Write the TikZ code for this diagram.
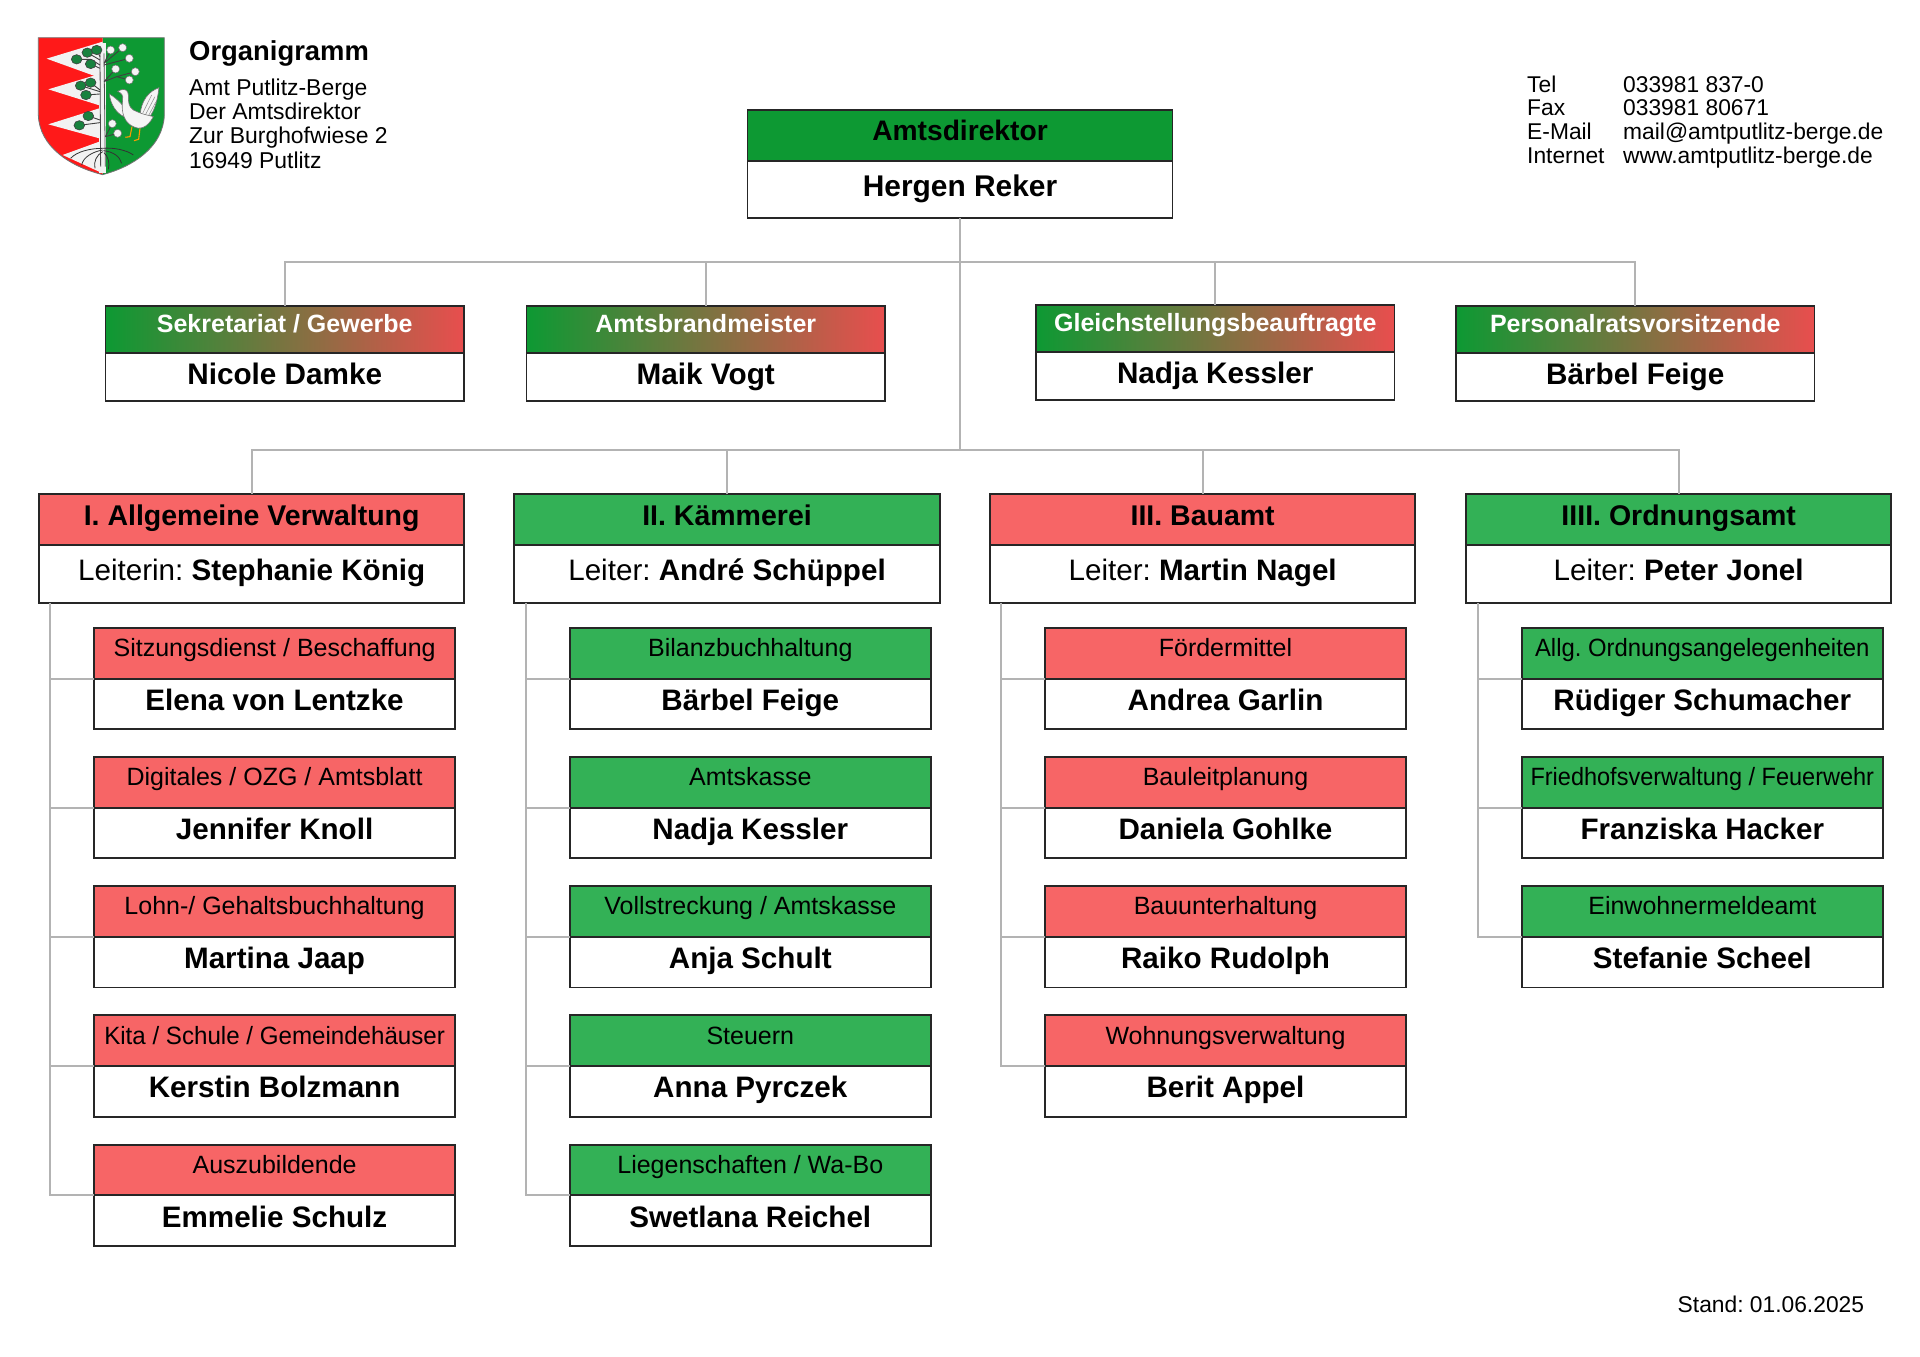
\documentclass[tikz,border=0pt]{standalone}
\usepackage{fontspec}
\setmainfont{Liberation Sans}
\usetikzlibrary{calc,positioning}
\definecolor{mygreen}{RGB}{13, 153, 51}
\definecolor{mygreen2}{RGB}{51, 177, 86}
\definecolor{myred}{RGB}{247, 101, 102}
\definecolor{myred2}{RGB}{232, 78, 78}
\definecolor{myline}{RGB}{179, 179, 179}
\definecolor{myleaf}{RGB}{24, 130, 62}
\newcommand{\squeeze}[2]{\scalebox{#1}[1]{#2}}
\tikzset{
  box/.style = {draw = black!85, line width = 1.9pt, inner sep = 0, outer sep = 0, align = center},
  link/.style = {draw = myline, line width = 2pt},
  topttl/.style = {box, fill = mygreen, minimum width = 425pt, text height = 30pt, text depth = 21pt, font = \fontsize{28.2}{30}\selectfont\bfseries},
  topname/.style = {box, minimum width = 425pt, text height = 35pt, text depth = 22.3pt, font = \fontsize{29.9}{30}\selectfont\bfseries},
  staffttl/.style = {box, left color = mygreen, right color = myred2, text = white, minimum width = 358.5pt, text height = 27pt, text depth = 20pt, font = \fontsize{25}{30}\selectfont\bfseries},
  staffname/.style = {box, minimum width = 358.5pt, text height = 31.6pt, text depth = 16.4pt, font = \fontsize{29.7}{30}\selectfont\bfseries},
  deptttl/.style = {box, minimum width = 425.3pt, text height = 31pt, text depth = 20pt, font = \fontsize{28.5}{30}\selectfont\bfseries},
  deptname/.style = {box, minimum width = 425.3pt, text height = 35pt, text depth = 22.7pt, font = \fontsize{29.6}{30}\selectfont},
  subttl/.style = {box, minimum width = 360.6pt, text height = 28.7pt, text depth = 22pt, font = \fontsize{25}{30}\selectfont},
  subname/.style = {box, minimum width = 360.6pt, text height = 31.6pt, text depth = 19pt, font = \fontsize{29.6}{30}\selectfont\bfseries},
  info/.style = {anchor = base west, inner sep = 0, font = \fontsize{22.8}{24}\selectfont},
  addr/.style = {info, font = \fontsize{22.9}{24}\selectfont},
  leaf/.style = {fill = myleaf, draw = black!75, line width = 0.6pt},
  silver/.style = {fill = black!4, draw = black!55, line width = 0.5pt}
}
% one box of a column: name, colour, x, top, title, person
\newcommand{\subbox}[6]{
  \node[subttl, fill = #2, anchor = north west] (#1t) at (#3, #4) {#5};
  \node[subname, anchor = north west] (#1n) at (#1t.south west) {#6};
}
\newcommand{\deptbox}[5]{
  \node[deptttl, fill = #2, anchor = north west] (#1t) at (#3, 494) {#4};
  \node[deptname, anchor = north west] (#1n) at (#1t.south west) {#5};
}
\newcommand{\staffbox}[5]{
  \node[staffttl, anchor = north west] (#1t) at (#2, #3) {#4};
  \node[staffname, anchor = north west] (#1n) at (#1t.south west) {#5};
}
\frenchspacing
\begin{document}
\begin{tikzpicture}[x = 1pt, y = -1pt]

\useasboundingbox (0, 0) rectangle (1920, 1357);

% crest, in units of a 3x crop
\begin{scope}[x = 0.3333pt, y = -0.3333pt]
\fill[mygreen] (308, 113) -- (493, 113) -- (493, 345) .. controls (490, 440) and (400, 500) .. (308, 524) -- cycle;
\fill[red!90!white] (308, 113) -- (115, 113) -- (115, 345) .. controls (118, 440) and (210, 500) .. (308, 524) -- cycle;
\draw[black!55, line width = 0.8pt] (115, 113) -- (493, 113) -- (493, 345) .. controls (490, 440) and (400, 500) .. (308, 524) .. controls (210, 500) and (118, 440) .. (115, 345) -- cycle;
\fill[black!5] (308, 125) -- (140, 176) -- (295, 232) -- cycle;
\fill[black!5] (298, 222) -- (145, 268) -- (298, 316) -- cycle;
\fill[black!5] (298, 325) -- (145, 373) -- (298, 415) -- cycle;
\fill[black!5] (298, 425) -- (188, 465) -- (308, 520) -- cycle;
\fill[black!5] (298, 130) rectangle (318, 520);
\draw[black!70, line width = 0.8pt] (302, 500) -- (300, 160) (316, 500) -- (312, 160);
% branches
\draw[black!75, line width = 0.9pt] (300, 195) -- (272, 178) -- (232, 178) (300, 180) -- (262, 158) (300, 170) -- (290, 150) (300, 205) -- (272, 192)
  (300, 282) -- (258, 285) (300, 270) -- (272, 248) (300, 275) -- (242, 257)
  (300, 368) -- (238, 376) (300, 360) -- (265, 348)
  (312, 190) -- (332, 150) (312, 190) -- (368, 143) (312, 195) -- (388, 175)
  (312, 245) -- (347, 207) (312, 245) -- (350, 230) -- (406, 215) (350, 230) -- (388, 240)
  (316, 410) -- (337, 371) (316, 410) -- (353, 400);
% leaves
\foreach \lx/\ly in {230/178, 262/158, 290/150, 272/192, 242/257, 272/248, 258/285, 265/348, 238/376}
  \draw[leaf] (\lx, \ly) ellipse (16 and 14);
\foreach \lx/\ly in {332/150, 368/143, 388/175, 347/207, 406/215, 388/240, 337/371, 353/400}
  \draw[silver] (\lx, \ly) circle (12);
% roots
\draw[black!80, line width = 0.8pt] (308, 445) .. controls (270, 445) and (230, 455) .. (212, 475)
  (308, 450) .. controls (280, 455) and (250, 470) .. (245, 495)
  (308, 455) .. controls (290, 465) and (280, 485) .. (285, 505)
  (308, 445) .. controls (340, 442) and (380, 450) .. (400, 465)
  (310, 452) .. controls (340, 455) and (360, 470) .. (365, 490)
  (312, 458) .. controls (325, 470) and (330, 490) .. (325, 508);
% goose
\draw[silver, line width = 0.6pt] (420, 345) .. controls (425, 300) and (445, 275) .. (477, 263) .. controls (470, 320) and (455, 355) .. (430, 365) -- cycle;
\draw[black!45, line width = 0.5pt] (428, 340) -- (455, 285) (436, 345) -- (465, 290) (444, 350) -- (468, 305);
\draw[silver, line width = 0.6pt] (372, 350) .. controls (350, 340) and (332, 315) .. (328, 282) .. controls (350, 295) and (365, 310) .. (378, 330) -- cycle;
\draw[orange!80!yellow, line width = 1.1pt] (396, 380) -- (390, 410) -- (376, 412) (420, 385) -- (416, 418) -- (402, 422);
\draw[silver, line width = 0.6pt] (353, 274) -- (362, 270) .. controls (375, 265) and (385, 272) .. (385, 285) .. controls (385, 305) and (385, 320) .. (400, 330) .. controls (430, 345) and (445, 345) .. (460, 350) .. controls (450, 370) and (430, 392) .. (405, 382) .. controls (375, 372) and (362, 340) .. (368, 300) .. controls (370, 285) and (365, 280) .. (353, 274) -- cycle;
\end{scope}

% header
\node[anchor = base west, inner sep = 0, font = \fontsize{27.4}{30}\selectfont\bfseries] (head) at (189, 60) {Organigramm};
\node[addr] (addr1) at (189, 95) {Amt Putlitz-Berge};
\node[addr] (addr2) at (189, 119.3) {Der Amtsdirektor};
\node[addr] (addr3) at (189, 143.8) {Zur Burghofwiese 2};
\node[addr] (addr4) at (189, 168) {16949 Putlitz};

\node[info] (tel1) at (1527, 92.5) {Tel};
\node[info] (tel2) at (1623, 92.5) {033981 837-0};
\node[info] (fax1) at (1527, 115.5) {Fax};
\node[info] (fax2) at (1623, 115.5) {033981 80671};
\node[info] (mail1) at (1527, 139.5) {E-Mail};
\node[info] (mail2) at (1623, 139.5) {mail@amtputlitz-berge.de};
\node[info] (web1) at (1527, 163.5) {Internet};
\node[info] (web2) at (1623, 163.5) {www.amtputlitz-berge.de};
\node[info] (stand) at (1677.5, 1312.5) {Stand: 01.06.2025};

% top
\node[topttl, anchor = north west] (dirt) at (747.5, 110) {Amtsdirektor};
\node[topname, anchor = north west] (dirn) at (dirt.south west) {Hergen Reker};

% staff
\staffbox{sek}{105.5}{305.7}{Sekretariat / Gewerbe}{Nicole Damke}
\staffbox{brand}{526.5}{305.7}{Amtsbrandmeister}{Maik Vogt}
\staffbox{gleich}{1036}{304.7}{Gleichstellungsbeauftragte}{Nadja Kessler}
\staffbox{pers}{1456}{305.7}{Personalratsvorsitzende}{Bärbel Feige}

% departments
\deptbox{depa}{myred}{39}{I. Allgemeine Verwaltung}{Leiterin: \textbf{Stephanie König}}
\deptbox{depb}{mygreen2}{514.4}{II. Kämmerei}{Leiter: \textbf{André Schüppel}}
\deptbox{depc}{myred}{990}{III. Bauamt}{Leiter: \textbf{Martin Nagel}}
\deptbox{depd}{mygreen2}{1466}{IIII. Ordnungsamt}{Leiter: \textbf{Peter Jonel}}

% column I
\subbox{aa}{myred}{94.3}{628}{Sitzungsdienst / Beschaffung}{Elena von Lentzke}
\subbox{ab}{myred}{94.3}{757}{Digitales / OZG / Amtsblatt}{Jennifer Knoll}
\subbox{ac}{myred}{94.3}{886.2}{Lohn-/ Gehaltsbuchhaltung}{Martina Jaap}
\subbox{ad}{myred}{94.3}{1015.4}{\squeeze{0.965}{Kita / Schule / Gemeindehäuser}}{Kerstin Bolzmann}
\subbox{ae}{myred}{94.3}{1144.7}{Auszubildende}{Emmelie Schulz}

% column II
\subbox{ba}{mygreen2}{570}{628}{Bilanzbuchhaltung}{Bärbel Feige}
\subbox{bb}{mygreen2}{570}{757}{Amtskasse}{Nadja Kessler}
\subbox{bc}{mygreen2}{570}{886.2}{Vollstreckung / Amtskasse}{Anja Schult}
\subbox{bd}{mygreen2}{570}{1015.4}{Steuern}{Anna Pyrczek}
\subbox{be}{mygreen2}{570}{1144.7}{Liegenschaften / Wa-Bo}{Swetlana Reichel}

% column III
\subbox{ca}{myred}{1045.2}{628}{Fördermittel}{Andrea Garlin}
\subbox{cb}{myred}{1045.2}{757}{Bauleitplanung}{Daniela Gohlke}
\subbox{cc}{myred}{1045.2}{886.2}{Bauunterhaltung}{Raiko Rudolph}
\subbox{cd}{myred}{1045.2}{1015.4}{Wohnungsverwaltung}{Berit Appel}

% column IIII
\subbox{da}{mygreen2}{1522}{628}{\squeeze{0.955}{Allg. Ordnungsangelegenheiten}}{Rüdiger Schumacher}
\subbox{db}{mygreen2}{1522}{757}{\squeeze{0.94}{Friedhofsverwaltung / Feuerwehr}}{Franziska Hacker}
\subbox{dc}{mygreen2}{1522}{886.2}{Einwohnermeldeamt}{Stefanie Scheel}

% links
\coordinate (bar1) at ($(dirn.south)+(0, 44)$);
\coordinate (bar2) at ($(dirn.south)+(0, 231.5)$);
\draw[link] (dirn.south) -- (bar2);
\foreach \kid in {sekt, brandt, gleicht, perst}
  \draw[link] (\kid.north) |- (bar1);
\foreach \kid in {depat, depbt, depct, depdt}
  \draw[link] (\kid.north) |- (bar2);

\coordinate (spa) at (50.3, 603);
\coordinate (spb) at (525.8, 603);
\coordinate (spc) at (1001, 603);
\coordinate (spd) at (1478, 603);
\foreach \kid in {aan, abn, acn, adn, aen}
  \draw[link] (spa) |- (\kid.north west);
\foreach \kid in {ban, bbn, bcn, bdn, ben}
  \draw[link] (spb) |- (\kid.north west);
\foreach \kid in {can, cbn, ccn, cdn}
  \draw[link] (spc) |- (\kid.north west);
\foreach \kid in {dan, dbn, dcn}
  \draw[link] (spd) |- (\kid.north west);

\end{tikzpicture}
\end{document}
